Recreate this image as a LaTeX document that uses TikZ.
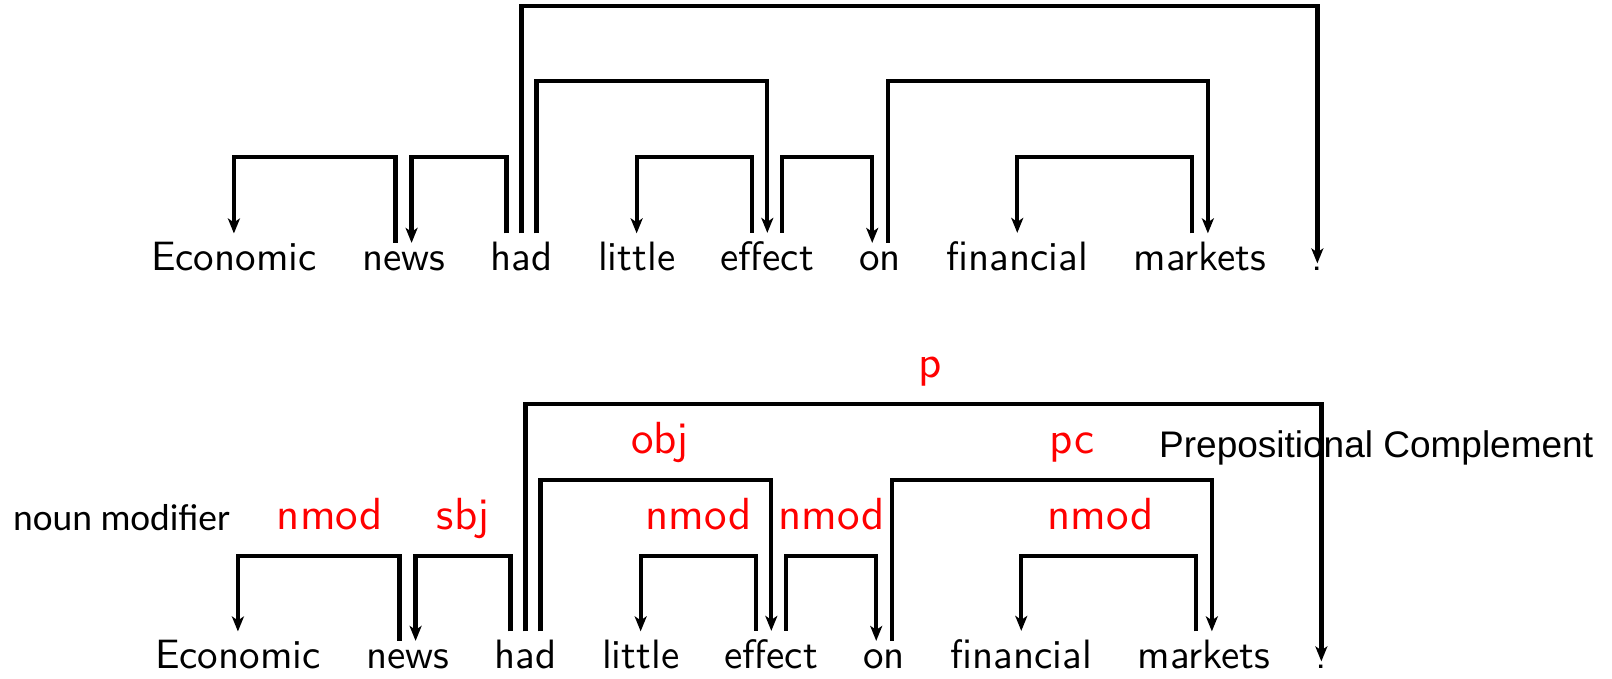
\documentclass[tikz,border=0pt]{standalone}
\usepackage{fontspec}
\newfontfamily\wordfont{lmsans10-regular.otf}
\newfontfamily\notefont{Carlito}
\newfontfamily\labelfont{Liberation Sans}
\usetikzlibrary{arrows.meta, positioning}

\begin{document}
\begin{tikzpicture}[x=1pt,y=-1pt,>={Stealth[length=15pt,width=12pt,inset=4pt]},node distance=45pt]
    \tikzset{word/.style={inner xsep=0pt, inner ysep=8pt, font=\wordfont\fontsize{41}{41}\selectfont}}
    \tikzset{dep/.style={->, line width=4.3pt}}
    \tikzset{rel/.style={text=red, anchor=base, yshift=27pt, inner sep=0pt, font=\wordfont\fontsize{45}{45}\selectfont}}

    \fill[white] (0,0) rectangle (1612,679);
    \useasboundingbox (0,0) rectangle (1612,679);

    % plain tree
    \coordinate (lowU) at (0,157);
    \coordinate (midU) at (0,81);
    \coordinate (topU) at (0,6);

    \node[word, anchor=base west] (econU) at (151,270) {Economic};
    \node[word, base right=of econU] (newsU) {news};
    \node[word, base right=of newsU] (hadU) {had};
    \node[word, base right=of hadU] (littleU) {little};
    \node[word, base right=of littleU] (effectU) {effect};
    \node[word, base right=of effectU] (onU) {on};
    \node[word, base right=of onU] (finU) {financial};
    \node[word, base right=of finU] (marketsU) {markets};
    \node[word, inner ysep=3pt, base right=of marketsU] (dotU) {.};

    \draw[dep] ([xshift=-8pt]newsU.north) |- (econU.north |- lowU) -- (econU.north);
    \draw[dep] ([xshift=-15pt]hadU.north) |- ([xshift=8pt]newsU.north |- lowU) -- ([xshift=8pt]newsU.north);
    \draw[dep] ([xshift=15pt]hadU.north) |- (effectU.north |- midU) -- (effectU.north);
    \draw[dep] (hadU.north) |- (dotU.north |- topU) -- (dotU.north);
    \draw[dep] ([xshift=-15pt]effectU.north) |- (littleU.north |- lowU) -- (littleU.north);
    \draw[dep] ([xshift=15pt]effectU.north) |- ([xshift=-8pt]onU.north |- lowU) -- ([xshift=-8pt]onU.north);
    \draw[dep] ([xshift=8pt]onU.north) |- ([xshift=8pt]marketsU.north |- midU) -- ([xshift=8pt]marketsU.north);
    \draw[dep] ([xshift=-8pt]marketsU.north) |- (finU.north |- lowU) -- (finU.north);

    % labelled tree
    \coordinate (lowL) at (0,556);
    \coordinate (midL) at (0,480);
    \coordinate (topL) at (0,404);

    \node[word, anchor=base west] (econL) at (155,668) {Economic};
    \node[word, base right=of econL] (newsL) {news};
    \node[word, base right=of newsL] (hadL) {had};
    \node[word, base right=of hadL] (littleL) {little};
    \node[word, base right=of littleL] (effectL) {effect};
    \node[word, base right=of effectL] (onL) {on};
    \node[word, base right=of onL] (finL) {financial};
    \node[word, base right=of finL] (marketsL) {markets};
    \node[word, inner ysep=3pt, base right=of marketsL] (dotL) {.};

    \node[anchor=base west, inner sep=0pt, font=\notefont\fontsize{37.5}{37.5}\selectfont] (nmodnote) at (13,530) {noun modifier};
    \node[anchor=base west, inner sep=0pt, font=\labelfont\fontsize{37}{37}\selectfont] (pcnote) at (1159,457) {Prepositional Complement};

    \draw[dep] ([xshift=-8pt]newsL.north) |- node[rel, pos=.75, xshift=11pt] {nmod} (econL.north |- lowL) -- (econL.north);
    \draw[dep] ([xshift=-15pt]hadL.north) |- node[rel, pos=.75] {sbj} ([xshift=8pt]newsL.north |- lowL) -- ([xshift=8pt]newsL.north);
    \draw[dep] ([xshift=15pt]hadL.north) |- node[rel, pos=.75, xshift=4pt] {obj} (effectL.north |- midL) -- (effectL.north);
    \draw[dep] (hadL.north) |- node[rel, pos=.75, xshift=7pt] {p} (dotL.north |- topL) -- (dotL.north);
    \draw[dep] ([xshift=-15pt]effectL.north) |- node[rel, pos=.75] {nmod} (littleL.north |- lowL) -- (littleL.north);
    \draw[dep] ([xshift=15pt]effectL.north) |- node[rel, pos=.75] {nmod} ([xshift=-8pt]onL.north |- lowL) -- ([xshift=-8pt]onL.north);
    \draw[dep] ([xshift=8pt]onL.north) |- node[rel, pos=.75, xshift=20pt] {pc} ([xshift=8pt]marketsL.north |- midL) -- ([xshift=8pt]marketsL.north);
    \draw[dep] ([xshift=-8pt]marketsL.north) |- node[rel, pos=.75, xshift=-8pt] {nmod} (finL.north |- lowL) -- (finL.north);
\end{tikzpicture}
\end{document}
